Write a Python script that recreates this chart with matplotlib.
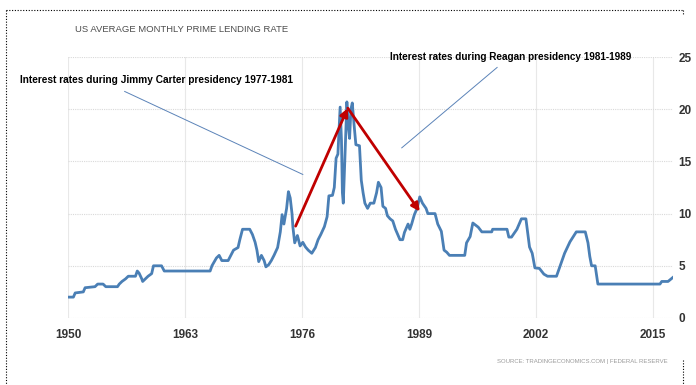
import matplotlib.pyplot as plt
from matplotlib.lines import Line2D

# US prime rate (year, percent)
years = [1950.0, 1950.6, 1950.8, 1951.7, 1951.9, 1953.0, 1953.3, 1953.9, 1954.2, 1955.5,
         1955.7, 1956.0, 1956.4, 1956.7, 1957.5, 1957.7, 1957.9, 1958.2, 1958.3, 1958.6,
         1958.9, 1959.3, 1959.5, 1960.4, 1960.7, 1965.8, 1966.0, 1966.5, 1966.8, 1967.1,
         1967.8, 1968.1, 1968.4, 1968.9, 1969.1, 1969.4, 1970.2, 1970.5, 1970.8, 1971.0,
         1971.2, 1971.5, 1971.8, 1972.0, 1972.3, 1972.6, 1972.9, 1973.3, 1973.6, 1973.8,
         1974.0, 1974.3, 1974.5, 1974.7, 1974.9, 1975.0, 1975.2, 1975.5, 1975.8, 1976.1,
         1976.4, 1976.7, 1977.1, 1977.5, 1977.8, 1978.1, 1978.5, 1978.8, 1979.0, 1979.4,
         1979.6, 1979.8, 1980.0, 1980.1, 1980.25, 1980.4, 1980.5, 1980.6, 1980.7, 1980.85,
         1981.0, 1981.15, 1981.3, 1981.45, 1981.6, 1981.8, 1982.0, 1982.4, 1982.6, 1982.8,
         1983.0, 1983.3, 1983.6, 1984.0, 1984.3, 1984.5, 1984.8, 1985.0, 1985.3, 1985.5,
         1985.8, 1986.1, 1986.4, 1986.9, 1987.2, 1987.4, 1987.8, 1988.0, 1988.2, 1988.5,
         1988.8, 1989.1, 1989.4, 1989.8, 1990.0, 1990.8, 1991.1, 1991.5, 1991.8, 1992.1,
         1992.4, 1994.1, 1994.3, 1994.7, 1995.0, 1995.6, 1996.0, 1997.1, 1997.2, 1998.8,
         1999.0, 1999.3, 1999.5, 1999.9, 2000.4, 2000.9, 2001.3, 2001.6, 2001.9, 2002.4,
         2002.9, 2003.3, 2004.3, 2005.2, 2005.8, 2006.5, 2007.5, 2007.8, 2008.0, 2008.2,
         2008.6, 2008.9, 2015.8, 2016.0, 2016.7, 2017.4]
rates = [2.0, 2.0, 2.4, 2.5, 2.9, 3.0, 3.25, 3.25, 3.0, 3.0,
         3.25, 3.5, 3.75, 4.0, 4.0, 4.5, 4.3, 3.75, 3.5, 3.75,
         4.0, 4.25, 5.0, 5.0, 4.5, 4.5, 5.0, 5.75, 6.0, 5.5,
         5.5, 6.0, 6.5, 6.75, 7.5, 8.5, 8.5, 8.0, 7.25, 6.5,
         5.4, 6.0, 5.5, 4.9, 5.1, 5.5, 6.0, 6.75, 8.25, 9.9,
         9.0, 10.5, 12.1, 11.5, 10.0, 8.7, 7.2, 7.9, 6.9, 7.25,
         6.8, 6.5, 6.2, 6.75, 7.5, 8.0, 8.75, 9.7, 11.7, 11.75,
         12.5, 15.3, 15.7, 17.5, 20.2, 17.0, 12.0, 11.0, 13.5, 17.5,
         20.7, 18.5, 17.2, 20.0, 20.6, 18.5, 16.6, 16.5, 13.2, 12.0,
         11.0, 10.5, 11.0, 11.0, 12.0, 13.0, 12.5, 10.7, 10.5, 9.8,
         9.5, 9.3, 8.5, 7.5, 7.5, 8.2, 9.0, 8.5, 9.0, 9.9,
         10.5, 11.6, 11.0, 10.5, 10.0, 10.0, 9.0, 8.3, 6.5, 6.3,
         6.0, 6.0, 7.2, 7.8, 9.1, 8.7, 8.25, 8.25, 8.5, 8.5,
         7.75, 7.75, 8.0, 8.5, 9.5, 9.5, 6.8, 6.2, 4.8, 4.75,
         4.2, 4.0, 4.0, 6.2, 7.3, 8.25, 8.25, 7.2, 5.9, 5.0,
         5.0, 3.25, 3.25, 3.5, 3.5, 4.0]

x_ticks = [1950, 1963, 1976, 1989, 2002, 2015]
y_ticks = [0, 5, 10, 15, 20, 25]

title = "US AVERAGE MONTHLY PRIME LENDING RATE"
carter_text = "Interest rates during Jimmy Carter presidency 1977-1981"
reagan_text = "Interest rates during Reagan presidency 1981-1989"
source_text = "SOURCE: TRADINGECONOMICS.COM | FEDERAL RESERVE"

# red arrows: start -> apex -> end
arrow_start = (1975.3, 8.8)
arrow_apex = (1981.1, 20.1)
arrow_end = (1989.1, 10.2)
# thin pointer lines
carter_line = [(1956.3, 21.7), (1976.1, 13.75)]
reagan_line = [(1997.7, 24.0), (1987.1, 16.3)]

font = ['Liberation Sans', 'DejaVu Sans']
W, H = 696, 385

fig = plt.figure(figsize=(6.96, 3.85), dpi=100)
ax = fig.add_axes([68 / W, 1 - 318 / H, (673 - 68) / W, (318 - 57) / H])

ax.plot(years, rates, color='#4a7fb5', lw=2.0, solid_joinstyle='round')

ax.set_xlim(1950, 2017.25)
ax.set_ylim(0, 25)
ax.set_xticks(x_ticks)
ax.set_yticks(y_ticks)
ax.yaxis.tick_right()
ax.tick_params(length=0, labelcolor='#333333', labelsize=8.5)
ax.tick_params(axis='x', pad=8)
ax.tick_params(axis='y', pad=4)
for lab in ax.get_xticklabels() + ax.get_yticklabels():
    lab.set_family(font)
    lab.set_fontweight('bold')

ax.grid(axis='y', color='#d9d9d9', lw=0.8, ls=(0, (1, 1)))
ax.grid(axis='x', color='#e8e8e8', lw=0.8)
ax.set_axisbelow(True)
for s in ax.spines.values():
    s.set_visible(False)

# arrows
arrow_kw = dict(arrowstyle='-|>', color='#c00000', lw=2.0, mutation_scale=12,
                shrinkA=0, shrinkB=0)
ax.annotate('', xy=arrow_apex, xytext=arrow_start, arrowprops=arrow_kw)
ax.annotate('', xy=arrow_end, xytext=arrow_apex, arrowprops=arrow_kw)

for seg in (carter_line, reagan_line):
    ax.add_line(Line2D([seg[0][0], seg[1][0]], [seg[0][1], seg[1][1]],
                       color='#5b83b8', lw=0.7, clip_on=False))

t_title = fig.text(75 / W, 1 - 30 / H, title, family=font, fontsize=8,
                   color='#4d4d4d', va='center', ha='left')
t_carter = fig.text(20 / W, 1 - 80 / H, carter_text, family=font, fontsize=9,
                    fontweight='bold', va='center', ha='left')
t_reagan = fig.text(390 / W, 1 - 57 / H, reagan_text, family=font, fontsize=9,
                    fontweight='bold', va='center', ha='left')
t_source = fig.text(668 / W, 1 - 362 / H, source_text, family=font, fontsize=6,
                    color='#9a9a9a', va='center', ha='right')

# the reference uses a narrow font: size each text to about its width there
fig.canvas.draw()
renderer = fig.canvas.get_renderer()
for txt, width in ((t_title, 212), (t_carter, 272), (t_reagan, 242), (t_source, 171)):
    w = txt.get_window_extent(renderer).width
    txt.set_fontsize(txt.get_fontsize() * width / w)

# dotted frame around the picture
dot = dict(color='black', lw=0.8, ls=(0, (1, 1.5)), transform=fig.transFigure)
fig.add_artist(Line2D([6 / W, 683 / W], [1 - 10 / H, 1 - 10 / H], **dot))
fig.add_artist(Line2D([6 / W, 6 / W], [1 - 10 / H, 0], **dot))
fig.add_artist(Line2D([683 / W, 683 / W], [1 - 10 / H, 1 - 14 / H], **dot))
fig.add_artist(Line2D([683 / W, 683 / W], [1 - 360 / H, 0], **dot))

fig.savefig('out.png', dpi=100)
